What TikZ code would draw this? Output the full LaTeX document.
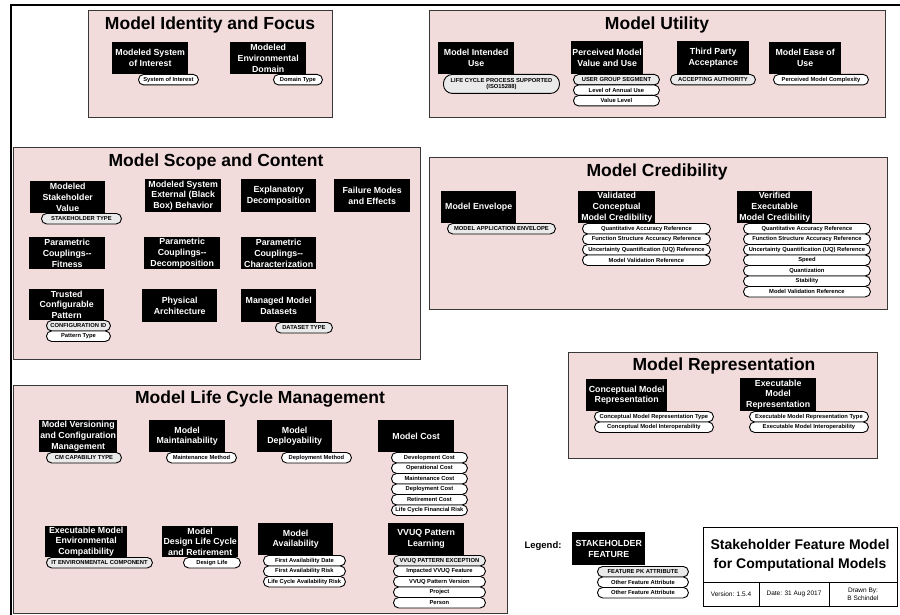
\documentclass[tikz,border=0pt]{standalone}
\usepackage{fontspec}
\setmainfont{Liberation Sans}
\definecolor{panelpink}{RGB}{242,220,219}
\definecolor{pkgray}{RGB}{234,234,234}
\begin{document}
\begin{tikzpicture}[x=1pt,y=-1pt,
  panel/.style={draw=black!78, fill=panelpink, line width=1pt, anchor=north west, inner sep=0pt},
  ptitle/.style={font=\fontsize{17.5}{20}\selectfont\bfseries},
  feat/.style={fill=black, text=white, font=\fontsize{8.8}{10.8}\selectfont\bfseries, align=center, anchor=north west, inner sep=0pt},
  attr/.style={draw=black, line width=0.9pt, fill=white, rounded corners=5.2pt, font=\fontsize{5.8}{6.6}\selectfont\bfseries, anchor=north west, inner sep=0pt, minimum height=10.5pt},
  pk/.style={attr, fill=pkgray},
  tbtext/.style={font=\fontsize{6.5}{8}\selectfont, align=center}
]
\useasboundingbox (0,0) rectangle (900,615);
% outer frame
\coordinate (fbl) at (11,615);
\coordinate (ftl) at (11,5);
\coordinate (ftr) at (900,5);
\draw[line width=1.6pt] (fbl) -- (ftl) -- (ftr);

% ===== Model Identity and Focus
\node[panel, minimum width=244pt, minimum height=107pt] (p1) at (88,10) {};
\node[ptitle] (t1) at (210,25) {Model Identity and Focus};
\node[feat, minimum width=76pt, minimum height=32pt] (a1) at (112,42) {Modeled System\\of Interest};
\node[attr, minimum width=60pt] (a1x) at (138,74) {System of Interest};
\node[feat, minimum width=76pt, minimum height=32pt] (a2) at (230,42) {Modeled\\Environmental\\Domain};
\node[attr, minimum width=49pt] (a2x) at (273,74) {Domain Type};

% ===== Model Utility
\node[panel, minimum width=456pt, minimum height=107pt] (p2) at (429,10) {};
\node[ptitle] (t2) at (657,25) {Model Utility};
\node[feat, minimum width=76pt, minimum height=32pt] (b1) at (438,42) {Model Intended\\Use};
\node[pk, minimum width=116pt, minimum height=19pt, rounded corners=9pt, align=center] (b1x) at (443,74) {LIFE CYCLE PROCESS SUPPORTED\\(ISO15288)};
\node[feat, minimum width=72pt, minimum height=33pt] (b2) at (571,41) {Perceived Model\\Value and Use};
\node[pk, minimum width=86pt] (b2x) at (573,74) {USER GROUP SEGMENT};
\node[attr, minimum width=86pt] (b2y) at (573,84.5) {Level of Annual Use};
\node[attr, minimum width=86pt] (b2z) at (573,95) {Value Level};
\node[feat, minimum width=72pt, minimum height=33pt] (b3) at (677,41) {Third Party\\Acceptance};
\node[pk, minimum width=85pt] (b3x) at (670,74) {ACCEPTING AUTHORITY};
\node[feat, minimum width=72pt, minimum height=32pt] (b4) at (769,42) {Model Ease of\\Use};
\node[attr, minimum width=95pt] (b4x) at (773,74) {Perceived Model Complexity};

% ===== Model Scope and Content
\node[panel, minimum width=407pt, minimum height=212pt] (p3) at (13,147) {};
\node[ptitle] (t3) at (216,162) {Model Scope and Content};
\node[feat, minimum width=75pt, minimum height=32pt] (c1) at (30,181) {Modeled\\Stakeholder\\Value};
\node[pk, minimum width=80pt] (c1x) at (41,213) {STAKEHOLDER TYPE};
\node[feat, minimum width=76pt, minimum height=33pt] (c2) at (145,179) {Modeled System\\External (Black\\Box) Behavior};
\node[feat, minimum width=75pt, minimum height=33pt] (c3) at (241,179) {Explanatory\\Decomposition};
\node[feat, minimum width=76pt, minimum height=33pt] (c4) at (334,179) {Failure Modes\\and Effects};
\node[feat, minimum width=76pt, minimum height=32pt] (c5) at (29,237) {Parametric\\Couplings-{}-\\Fitness};
\node[feat, minimum width=76pt, minimum height=32pt] (c6) at (144,237) {Parametric\\Couplings-{}-\\Decomposition};
\node[feat, minimum width=75pt, minimum height=32pt] (c7) at (241,237) {Parametric\\Couplings-{}-\\Characterization};
\node[feat, minimum width=75pt, minimum height=31pt] (c8) at (29,289) {Trusted\\Configurable\\Pattern};
\node[pk, minimum width=64pt] (c8x) at (46,320) {CONFIGURATION ID};
\node[attr, minimum width=64pt] (c8y) at (46,330.5) {Pattern Type};
\node[feat, minimum width=75pt, minimum height=33pt] (c9) at (142,289) {Physical\\Architecture};
\node[feat, minimum width=75pt, minimum height=33pt] (c10) at (241,289) {Managed Model\\Datasets};
\node[pk, minimum width=57pt] (c10x) at (275,322) {DATASET TYPE};

% ===== Model Credibility
\node[panel, minimum width=458pt, minimum height=152pt] (p4) at (429,157) {};
\node[ptitle] (t4) at (657,172) {Model Credibility};
\node[feat, minimum width=75pt, minimum height=32pt] (d1) at (441,191) {Model Envelope};
\node[pk, minimum width=108pt] (d1x) at (447,223) {MODEL APPLICATION ENVELOPE};
\node[feat, minimum width=77pt, minimum height=32pt] (d2) at (578,191) {Validated\\Conceptual\\Model Credibility};
\foreach \t [count=\i from 0] in {Quantitative Accuracy Reference, Function Structure Accuracy Reference, Uncertainty Quantification (UQ) Reference, Model Validation Reference}
  \node[attr, minimum width=128pt] (d2x\i) at (582,{223+10.5*\i}) {\t};
\node[feat, minimum width=75pt, minimum height=32pt] (d3) at (737,191) {Verified\\Executable\\Model Credibility};
\foreach \t [count=\i from 0] in {Quantitative Accuracy Reference, Function Structure Accuracy Reference, Uncertainty Quantification (UQ) Reference, Speed, Quantization, Stability, Model Validation Reference}
  \node[attr, minimum width=127pt] (d3x\i) at (743,{223+10.5*\i}) {\t};

% ===== Model Representation
\node[panel, minimum width=309pt, minimum height=106pt] (p5) at (568,352) {};
\node[ptitle] (t5) at (724,366) {Model Representation};
\node[feat, minimum width=81pt, minimum height=32pt] (e1) at (586,379) {Conceptual Model\\Representation};
\node[attr, minimum width=119pt] (e1x) at (594,411) {Conceptual Model Representation Type};
\node[attr, minimum width=119pt] (e1y) at (594,421.5) {Conceptual Model Interoperability};
\node[feat, minimum width=76pt, minimum height=33pt] (e2) at (740,378) {Executable\\Model\\Representation};
\node[attr, minimum width=119pt] (e2x) at (749,411) {Executable Model Representation Type};
\node[attr, minimum width=119pt] (e2y) at (749,421.5) {Executable Model Interoperability};

% ===== Model Life Cycle Management
\node[panel, minimum width=494pt, minimum height=228pt] (p6) at (13,385) {};
\node[ptitle] (t6) at (260,399) {Model Life Cycle Management};
\node[feat, minimum width=78pt, minimum height=32pt] (f1) at (39,420) {Model Versioning\\and Configuration\\Management};
\node[pk, minimum width=75pt] (f1x) at (46,452) {CM CAPABILIY TYPE};
\node[feat, minimum width=76pt, minimum height=32pt] (f2) at (149,420) {Model\\Maintainability};
\node[attr, minimum width=70pt] (f2x) at (166,452) {Maintenance Method};
\node[feat, minimum width=75pt, minimum height=32pt] (f3) at (257,420) {Model\\Deployability};
\node[attr, minimum width=70pt] (f3x) at (281,452) {Deployment Method};
\node[feat, minimum width=76pt, minimum height=32pt] (f4) at (378,420) {Model Cost};
\foreach \t [count=\i from 0] in {Development Cost, Operational Cost, Maintenance Cost, Deployment Cost, Retirement Cost, Life Cycle Financial Risk}
  \node[attr, minimum width=76pt] (f4x\i) at (391,{452+10.5*\i}) {\t};
\node[feat, minimum width=82pt, minimum height=31pt] (f5) at (45,526) {Executable Model\\Environmental\\Compatibility};
\node[pk, minimum width=106pt] (f5x) at (46,557) {IT ENVIRONMENTAL COMPONENT};
\node[feat, minimum width=76pt, minimum height=31pt] (f6) at (162,526) {Model\\Design Life Cycle\\and Retirement};
\node[attr, minimum width=57pt] (f6x) at (183,557) {Design Life};
\node[feat, minimum width=75pt, minimum height=32pt] (f7) at (258,523) {Model\\Availability};
\foreach \t [count=\i from 0] in {First Availability Date, First Availability Risk, Life Cycle Availability Risk}
  \node[attr, minimum width=82pt] (f7x\i) at (263,{555+10.5*\i}) {\t};
\node[feat, minimum width=76pt, minimum height=32pt] (f8) at (388,523) {VVUQ Pattern\\Learning};
\node[pk, minimum width=92pt] (f8x0) at (393,555) {VVUQ PATTERN EXCEPTION};
\foreach \t [count=\i from 1] in {Impacted VVUQ Feature, VVUQ Pattern Version, Project, Person}
  \node[attr, minimum width=92pt] (f8x\i) at (393,{555+10.5*\i}) {\t};

% ===== Legend
\node[font=\fontsize{9.5}{11}\selectfont\bfseries] (lg) at (543,546) {Legend:};
\node[feat, minimum width=73pt, minimum height=33pt] (lgf) at (572,532) {STAKEHOLDER\\FEATURE};
\node[pk, minimum width=91pt] (lg0) at (597,566) {FEATURE PK ATTRIBUTE};
\node[attr, minimum width=91pt] (lg1) at (597,576.5) {Other Feature Attribute};
\node[attr, minimum width=91pt] (lg2) at (597,587) {Other Feature Attribute};

% ===== Title block
\node[draw, line width=0.8pt, fill=white, minimum width=194pt, minimum height=79pt, anchor=north west, inner sep=0pt] (tb) at (703,527) {};
\coordinate (hl) at (703,582);
\coordinate (hr) at (897,582);
\coordinate (v1t) at (759,582);
\coordinate (v1b) at (759,606);
\coordinate (v2t) at (829,582);
\coordinate (v2b) at (829,606);
\draw[line width=0.8pt] (hl) -- (hr);
\draw[line width=0.8pt] (v1t) -- (v1b);
\draw[line width=0.8pt] (v2t) -- (v2b);
\node[font=\fontsize{14}{19}\selectfont\bfseries, align=center] (tbt) at (800,555) {Stakeholder Feature Model\\for Computational Models};
\node[tbtext] (ver) at (731,594) {Version: 1.5.4};
\node[tbtext] (dat) at (794,594) {Date: 31 Aug 2017};
\node[tbtext] (drw) at (863,594) {Drawn By:\\B Schindel};
\end{tikzpicture}
\end{document}
